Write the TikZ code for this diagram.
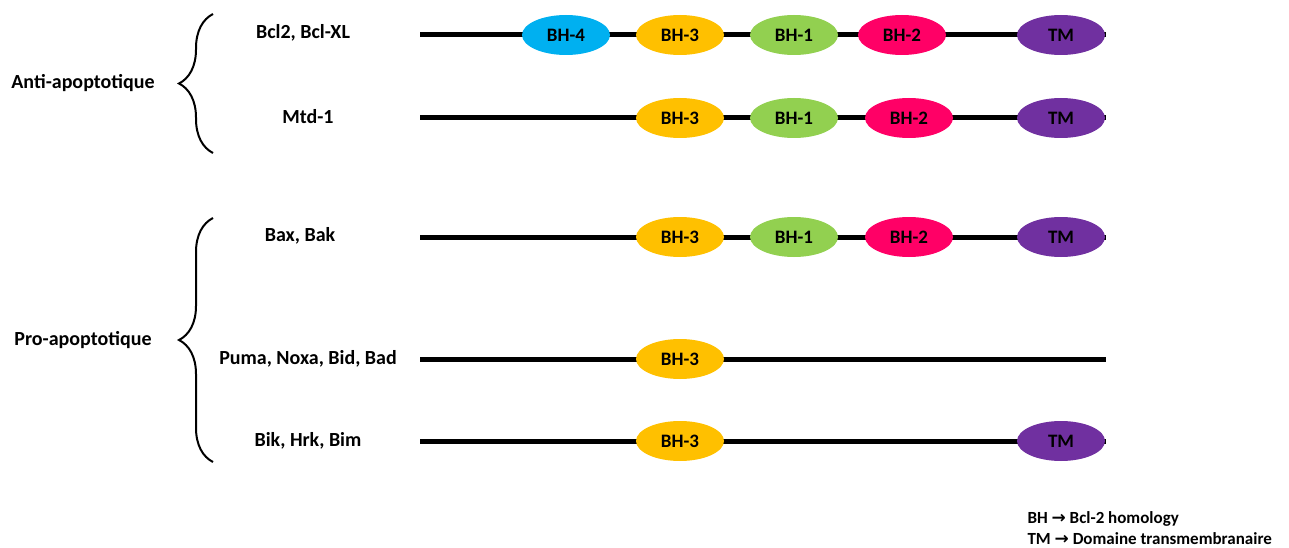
\documentclass[tikz,border=0pt]{standalone}
\usepackage{fontspec}
\setmainfont{Carlito}
\newfontfamily\arrowfont{DejaVu Sans}
\usepackage{tikz}
\usetikzlibrary{shapes,positioning,calc,decorations.pathreplacing}
\definecolor{bhfour}{RGB}{0,176,240}
\definecolor{bhthree}{RGB}{255,192,0}
\definecolor{bhone}{RGB}{146,208,80}
\definecolor{bhtwo}{RGB}{255,0,102}
\definecolor{tmcol}{RGB}{112,48,160}

\begin{document}
\begin{tikzpicture}[x=1pt, y=-1pt, font=\bfseries\fontsize{20}{24}\selectfont,
    chain/.style={line width=5pt},
    dom/.style={ellipse, minimum width=88pt, minimum height=40pt, inner sep=0pt, font=\bfseries\fontsize{19}{22}\selectfont},
    grp/.style={decorate, decoration={brace, amplitude=34pt}, line width=2pt}]
    \useasboundingbox (0,0) rectangle (1289,548);

    % Anti-apoptotique
    \node (bcl) at (303,33) {Bcl2, Bcl-XL};
    \node (mtd) at (308,117) {Mtd-1};
    \coordinate (s1) at (420,35);  \coordinate (e1) at (1106,35);
    \coordinate (s2) at (420,118); \coordinate (e2) at (1106,118);
    \draw [chain] (s1) -- (e1);
    \draw [chain] (s2) -- (e2);
    \node [dom, fill=bhfour] (a4) at (566,35) {BH-4};
    \node [dom, fill=bhthree] (a3) at (680,35) {BH-3};
    \node [dom, fill=bhone] (a1) at (794,35) {BH-1};
    \node [dom, fill=bhtwo] (a2) at (902,35) {BH-2};
    \node [dom, fill=tmcol] (atm) at (1061,35) {TM};
    \node [dom, fill=bhthree] (m3) at (680,118) {BH-3};
    \node [dom, fill=bhone] (m1) at (794,118) {BH-1};
    \node [dom, fill=bhtwo] (m2) at (909,118) {BH-2};
    \node [dom, fill=tmcol] (mtm) at (1061,118) {TM};
    \coordinate (b1bot) at (213,153); \coordinate (b1top) at (213,14);
    \draw [grp] (b1bot) -- (b1top);
    \node (anti) at (83,83) {Anti-apoptotique};

    % Pro-apoptotique
    \node (bax) at (300,236) {Bax, Bak};
    \node (puma) at (308,359) {Puma, Noxa, Bid, Bad};
    \node (bik) at (308,441) {Bik, Hrk, Bim};
    \coordinate (s3) at (420,237); \coordinate (e3) at (1106,237);
    \coordinate (s4) at (420,359); \coordinate (e4) at (1106,359);
    \coordinate (s5) at (420,441); \coordinate (e5) at (1106,441);
    \draw [chain] (s3) -- (e3);
    \draw [chain] (s4) -- (e4);
    \draw [chain] (s5) -- (e5);
    \node [dom, fill=bhthree] (x3) at (680,237) {BH-3};
    \node [dom, fill=bhone] (x1) at (794,237) {BH-1};
    \node [dom, fill=bhtwo] (x2) at (909,237) {BH-2};
    \node [dom, fill=tmcol] (xtm) at (1061,237) {TM};
    \node [dom, fill=bhthree] (p3) at (680,359) {BH-3};
    \node [dom, fill=bhthree] (k3) at (680,441) {BH-3};
    \node [dom, fill=tmcol] (ktm) at (1061,441) {TM};
    \coordinate (b2bot) at (213,462); \coordinate (b2top) at (213,218);
    \draw [grp] (b2bot) -- (b2top);
    \node (pro) at (83,340) {Pro-apoptotique};

    % Legende
    \node [anchor=west, font=\bfseries\fontsize{17}{20}\selectfont] (leg1) at (1024,519) {BH {\arrowfont\bfseries →} Bcl-2 homology};
    \node [anchor=west, font=\bfseries\fontsize{17}{20}\selectfont] (leg2) at (1024,539) {TM {\arrowfont\bfseries →} Domaine transmembranaire};
\end{tikzpicture}
\end{document}
